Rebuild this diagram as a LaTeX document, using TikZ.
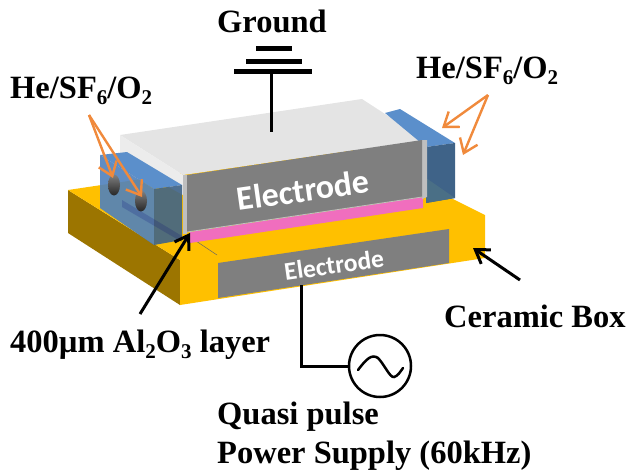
\documentclass[tikz,border=0pt]{standalone}
\usepackage{fontspec}
\setmainfont{Liberation Serif}
\setsansfont{Carlito}
\usetikzlibrary{arrows.meta}
\definecolor{ceramic}{HTML}{FFC000}
\definecolor{ceramicdark}{HTML}{9C7500}
\definecolor{elgray}{HTML}{7F7F7F}
\definecolor{lighttop}{HTML}{E4E4E4}
\definecolor{stripgray}{HTML}{BFBFBF}
\definecolor{bluetop}{HTML}{5B8FCB}
\definecolor{blueside}{HTML}{4F81BD}
\definecolor{bluefront}{HTML}{3F6388}
\definecolor{bluefrontlow}{HTML}{4A6F86}
\definecolor{pinklayer}{HTML}{F06EBE}
\definecolor{arroworange}{HTML}{F08A3C}
\newcommand\lowsub[1]{\raisebox{-6pt}{\fontsize{21}{21}\selectfont #1}}
\tikzset{
  lbl/.style={font=\bfseries\fontsize{32.5}{34}\selectfont,inner sep=0pt,anchor=base west,text=black},
  eltext/.style={text=white,inner sep=0pt,rotate=8},
  orangearrow/.style={draw=arroworange,line width=2.4pt,-{Straight Barb[length=13pt,width=19pt,line width=2.4pt]}},
  blackarrow/.style={draw=black,line width=3pt,-{Straight Barb[length=13pt,width=17pt,line width=3pt]}},
  wire/.style={draw=black,line width=3pt},
  plate/.style={draw=black,line width=5pt},
}
\begin{document}
\begin{tikzpicture}[x=1pt,y=-1pt]
\useasboundingbox (0,0) rectangle (630,474);
% ceramic box
\fill[ceramicdark] (68,190) -- (180,260) -- (180,305) -- (68,233) -- cycle;
\fill[ceramic] (68,190) -- (350,148) -- (485,215) -- (485,258) -- (180,305) -- (180,260) -- cycle;
\draw[black!60,line width=0.5pt] (190,237) -- (217,255);
% lower electrode
\fill[elgray] (218,263) -- (449,229) -- (449,263) -- (218,298) -- cycle;
% light upper top
\fill[lighttop] (120,135) -- (362,99) -- (425,140) -- (183,175) -- cycle;
\fill[lighttop!70!white] (120,135) -- (183,175) -- (183,195) -- (120,160) -- cycle;
% right blue
\fill[bluetop] (385,113) -- (400,109) -- (455,143) -- (426,147) -- cycle;
\fill[bluefront] (426,147) -- (455,143) -- (455,198) -- (426,203) -- cycle;
\fill[bluefrontlow] (426,178) -- (455,198) -- (426,203) -- cycle;
% left blue
\fill[bluetop] (100,155) -- (127,152) -- (182,185) -- (154,189) -- cycle;
\fill[blueside,opacity=.9] (100,155) -- (154,189) -- (154,245) -- (100,208) -- cycle;
\fill[bluefront,opacity=.9] (154,189) -- (182,185) -- (182,240) -- (154,245) -- cycle;
\fill[blue!45!black,opacity=.18] (122,200) -- (182,236) -- (182,242) -- (122,207) -- cycle;
% gas holes
\shade[top color=gray,bottom color=black!85] (114,185) ellipse (6 and 10.5);
\shade[top color=gray,bottom color=black!85] (141,201) ellipse (6 and 10.5);
% pink layer
\fill[pinklayer] (190,232) -- (423,197) -- (423,208) -- (190,243) -- cycle;
% upper electrode
\fill[stripgray] (183,175) -- (187,175) -- (187,234) -- (183,234) -- cycle;
\fill[stripgray] (422,140) -- (427,140) -- (427,197) -- (422,199) -- cycle;
\fill[elgray] (187,175) -- (422,140) -- (422,197) -- (187,232) -- cycle;
\draw[stripgray,line width=0.8pt] (187,232) -- (422,197);
\coordinate (topface) at (271,132);
\node[eltext,font=\sffamily\bfseries\fontsize{34}{36}\selectfont] (upperel) at (303,190) {Electrode};
\node[eltext,font=\sffamily\bfseries\fontsize{25.5}{27}\selectfont] (lowerel) at (334,265) {Electrode};
\coordinate (lowerwire) at (301,285);
% ground
\coordinate (plateA) at (271,71);
\draw[plate] (234,71) -- (312,71);
\draw[plate] (246,61) -- (302,61);
\draw[plate] (256,48) -- (292,48);
\draw[wire] (plateA) -- (topface);
\node[lbl] (ground) at (217,32) {Ground};
% source
\node[draw=black,line width=2.5pt,circle,minimum size=62pt,inner sep=0pt] (source) at (380,366) {};
\draw[black,line width=2.5pt,line cap=round] (358,370) .. controls (367,358) and (372,354) .. (378,358)
  .. controls (384,364) and (390,378) .. (394,377) .. controls (398,376) and (400,372) .. (403,368);
\draw[wire] (lowerwire) |- (source.west);
% labels
\node[lbl] (heleft) at (10,98) {He/SF\lowsub{6}/O\lowsub{2}};
\node[lbl] (heright) at (416,78) {He/SF\lowsub{6}/O\lowsub{2}};
\node[lbl] (al) at (10,352) {400µm Al\lowsub{2}O\lowsub{3} layer};
\node[lbl] (ceramicl) at (444,327) {Ceramic Box};
\node[lbl] (quasi) at (217,424) {Quasi pulse};
\node[lbl] (psu) at (217,463) {Power Supply (60kHz)};
% arrows
\coordinate (oL) at (89,115);
\coordinate (oLa) at (113,178);
\coordinate (oLb) at (142,197);
\draw[orangearrow] (oL) -- (oLa);
\draw[orangearrow] (oL) -- (oLb);
\coordinate (oR) at (488,95);
\coordinate (oRa) at (442,128);
\coordinate (oRb) at (463,155);
\draw[orangearrow] (oR) -- (oRa);
\draw[orangearrow] (oR) -- (oRb);
\coordinate (alstart) at (140,314);
\coordinate (altip) at (190,233);
\draw[blackarrow] (alstart) -- (altip);
\coordinate (cerstart) at (520,280);
\coordinate (certip) at (473,248);
\draw[blackarrow] (cerstart) -- (certip);
\end{tikzpicture}
\end{document}
